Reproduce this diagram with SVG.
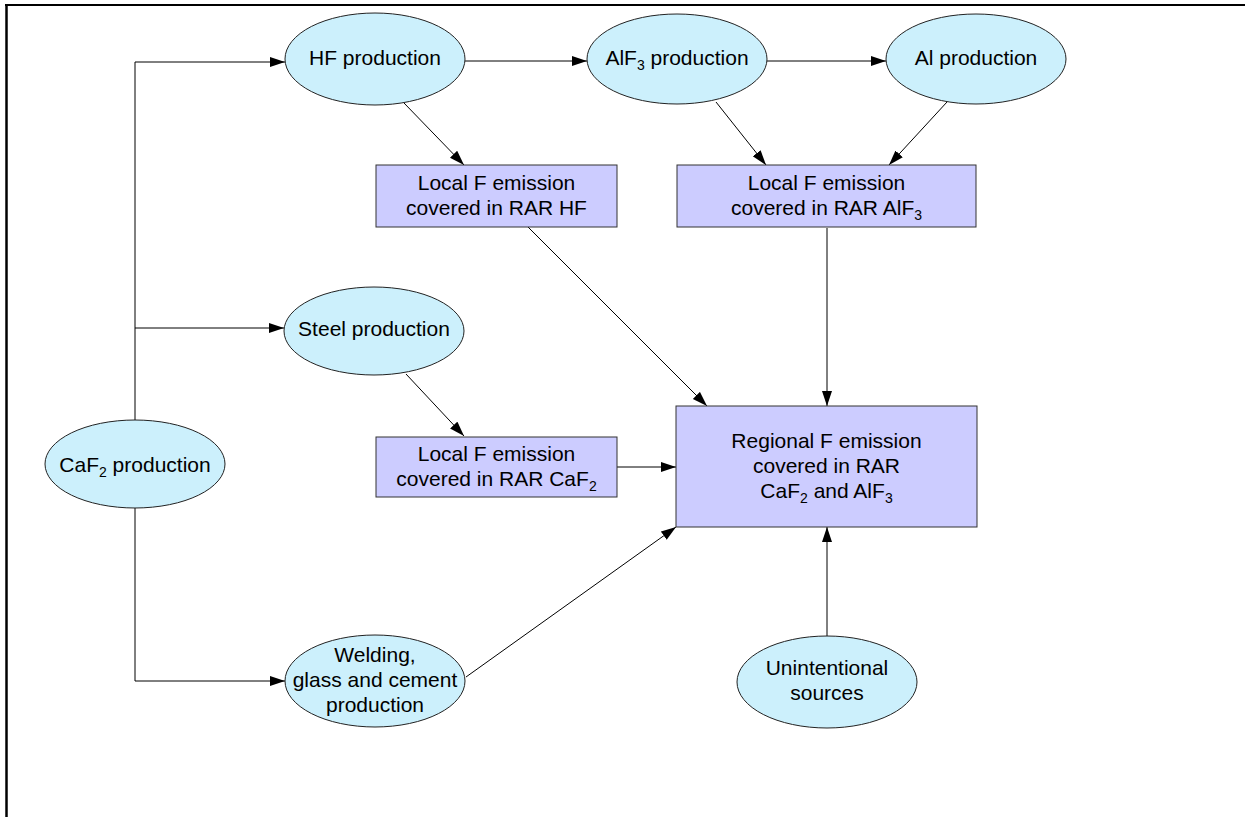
<svg xmlns="http://www.w3.org/2000/svg" width="1245" height="817" viewBox="0 0 1245 817">
<defs>
<marker id="arr" markerUnits="userSpaceOnUse" markerWidth="16" markerHeight="11" refX="15" refY="5" orient="auto">
<path d="M0,0 L15,5 L0,10 z" fill="#000"/>
</marker>
<style>
.ell{fill:#CCF0FC;stroke:#222;stroke-width:1}
.box{fill:#CCCCFF;stroke:#333;stroke-width:1}
.t{font-family:"Liberation Sans",Arial,sans-serif;font-size:21px;fill:#000;text-anchor:middle}
.sub{font-size:14px}
.c{fill:none;stroke:#000;stroke-width:1;marker-end:url(#arr)}
.e{fill:none;stroke:#333;stroke-width:1}
</style>
</defs>
<rect width="1245" height="817" fill="#fff"/>
<g id="frame">
<line x1="5" y1="5" x2="1245" y2="5" stroke="#000" stroke-width="2.2"/>
<line x1="6.5" y1="4" x2="6.5" y2="817" stroke="#000" stroke-width="2.5"/>
</g>
<g id="connectors">
<polyline class="c" points="135,420 135,62 285,62"/>
<polyline class="c" points="135,328 284,328"/>
<polyline class="c" points="135,508 135,681 285,681"/>
<line class="c" x1="465" y1="61" x2="587" y2="61"/>
<line class="c" x1="767" y1="61" x2="886" y2="61"/>
<line class="c" x1="404" y1="103" x2="464" y2="165"/>
<line class="c" x1="716" y1="102" x2="766" y2="165"/>
<line class="c" x1="947" y1="102" x2="889" y2="165"/>
<line class="c" x1="528" y1="227" x2="707" y2="406"/>
<line class="c" x1="827" y1="228" x2="827" y2="406"/>
<line class="c" x1="406" y1="374" x2="464" y2="436"/>
<line class="c" x1="617" y1="467" x2="676" y2="467"/>
<line class="c" x1="466" y1="677" x2="676" y2="527"/>
<line class="c" x1="827" y1="636" x2="827" y2="527"/>
</g>
<g id="hf">
<ellipse class="ell" cx="375" cy="59" rx="90" ry="46"/>
<text class="t" x="375" y="65">HF production</text>
</g>
<g id="alf3">
<ellipse class="ell" cx="677" cy="59" rx="90" ry="45"/>
<text class="t" x="677" y="65">AlF<tspan class="sub" dy="5">3</tspan><tspan dy="-5"> production</tspan></text>
</g>
<g id="al">
<ellipse class="ell" cx="976" cy="59" rx="90" ry="45"/>
<text class="t" x="976" y="65">Al production</text>
</g>
<g id="box-hf">
<rect class="box" x="376" y="165" width="241" height="62"/>
<text class="t" x="496.5" y="190">Local F emission</text>
<text class="t" x="496.5" y="215">covered in RAR HF</text>
</g>
<g id="box-alf3">
<rect class="box" x="677" y="165" width="299" height="62"/>
<text class="t" x="826.5" y="190">Local F emission</text>
<text class="t" x="826.5" y="215">covered in RAR AlF<tspan class="sub" dy="5">3</tspan></text>
</g>
<g id="steel">
<ellipse class="ell" cx="374" cy="331" rx="90" ry="44"/>
<text class="t" x="374" y="336">Steel production</text>
</g>
<g id="caf2">
<ellipse class="ell" cx="135" cy="464" rx="90" ry="44"/>
<text class="t" x="135" y="472">CaF<tspan class="sub" dy="5">2</tspan><tspan dy="-5"> production</tspan></text>
</g>
<g id="box-caf2">
<rect class="box" x="376" y="437" width="241" height="60"/>
<text class="t" x="496.5" y="461">Local F emission</text>
<text class="t" x="496.5" y="486">covered in RAR CaF<tspan class="sub" dy="5">2</tspan></text>
</g>
<g id="regional">
<rect class="box" x="676" y="406" width="301" height="121"/>
<text class="t" x="826.5" y="448">Regional F emission</text>
<text class="t" x="826.5" y="473">covered in RAR</text>
<text class="t" x="826.5" y="498">CaF<tspan class="sub" dy="5">2</tspan><tspan dy="-5"> and AlF</tspan><tspan class="sub" dy="5">3</tspan></text>
</g>
<g id="welding">
<ellipse class="ell" cx="375" cy="681" rx="90" ry="46"/>
<text class="t" x="375" y="662">Welding,</text>
<text class="t" x="375" y="687">glass and cement</text>
<text class="t" x="375" y="712">production</text>
</g>
<g id="unintentional">
<ellipse class="ell" cx="827" cy="682" rx="90" ry="46"/>
<text class="t" x="827" y="675">Unintentional</text>
<text class="t" x="827" y="700">sources</text>
</g>
</svg>
